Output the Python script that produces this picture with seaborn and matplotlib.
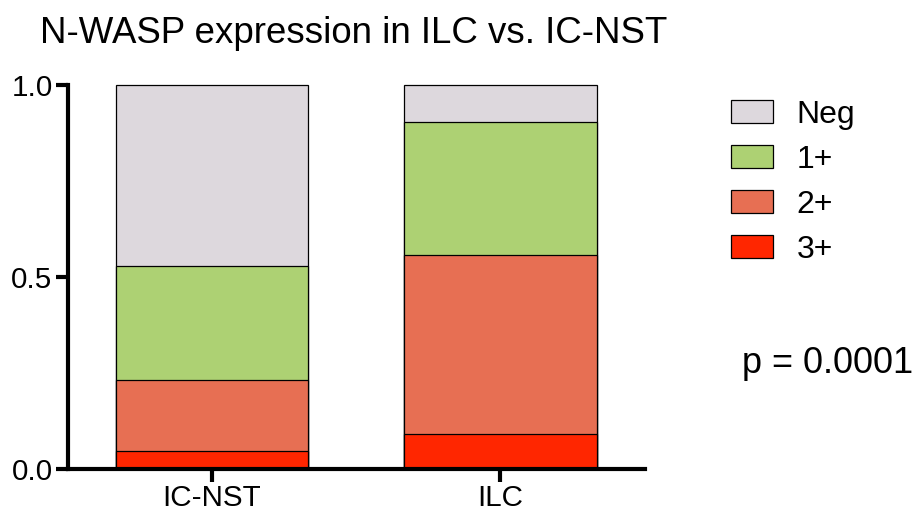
import matplotlib
matplotlib.use("Agg")
import matplotlib.pyplot as plt
from matplotlib.patches import Patch
import numpy as np
import pandas as pd
import seaborn as sns

# Fraction of tumours per N-WASP staining score
groups = ["IC-NST", "ILC"]
score_3 = [0.047, 0.090]
score_2 = [0.185, 0.466]
score_1 = [0.297, 0.348]
score_neg = [0.471, 0.096]

levels = ["Neg", "1+", "2+", "3+"]
colors = {"Neg": "#DDD8DD", "1+": "#ADD173", "2+": "#E76F53", "3+": "#FF2600"}

sns.set_theme(style="white")
plt.rcParams["font.family"] = ["Liberation Sans", "DejaVu Sans"]
plt.rcParams["text.color"] = "black"

# cumulative tops, drawn from the tallest segment down so each sits on the one below
cum_3 = np.array(score_3)
cum_2 = cum_3 + np.array(score_2)
cum_1 = cum_2 + np.array(score_1)
cum_neg = cum_1 + np.array(score_neg)
stacks = {"Neg": cum_neg, "1+": cum_1, "2+": cum_2, "3+": cum_3}

fig = plt.figure(figsize=(9.17, 5.14), dpi=100)
ax = fig.add_axes([0.074, 0.0875, 0.629, 0.7475])

for lvl in levels:
    df = pd.DataFrame({"group": groups, "top": stacks[lvl]})
    sns.barplot(data=df, x="group", y="top", color=colors[lvl], width=0.667,
                edgecolor="black", linewidth=0.9, saturation=1, ax=ax)

ax.set_xlim(-0.5, 1.5)
ax.set_ylim(0, 1.0)
ax.set_yticks([0.0, 0.5, 1.0])
ax.set_yticklabels(["0.0", "0.5", "1.0"])
ax.set_xlabel("")
ax.set_ylabel("")
for p in ax.patches:
    p.set_clip_on(False)

sns.despine(ax=ax)
for side in ["left", "bottom"]:
    ax.spines[side].set_linewidth(3)
    ax.spines[side].set_color("black")
ax.tick_params(axis="both", which="major", length=9, width=3, color="black",
               labelsize=21.3, labelcolor="black", pad=2, left=True, bottom=True)

fig.text(40 / 917, 1 - 43 / 514, "N-WASP expression in ILC vs. IC-NST",
         fontsize=26.4, ha="left", va="baseline", color="black")

handles = [Patch(facecolor=colors[l], edgecolor="black", linewidth=0.9) for l in levels]
fig.legend(handles, levels, loc="upper left", bbox_to_anchor=(0.797, 0.806),
           frameon=False, fontsize=23, handlelength=1.31, handleheight=0.69,
           handletextpad=0.75, labelspacing=0.47, borderaxespad=0, borderpad=0,
           labelcolor="black")

fig.text(742 / 917, 1 - 373 / 514, "p = 0.0001", fontsize=26,
         ha="left", va="baseline", color="black")

fig.savefig("out.png", dpi=100)
